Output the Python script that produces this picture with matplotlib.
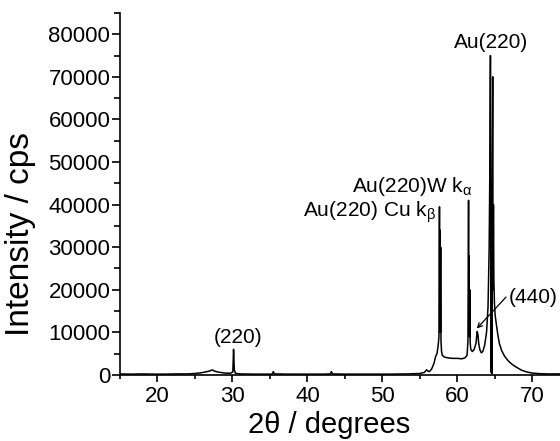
import numpy as np
import matplotlib
matplotlib.use("Agg")
import matplotlib.pyplot as plt
from matplotlib.ticker import MultipleLocator

plt.rcParams['font.family'] = ['Liberation Sans', 'DejaVu Sans']
plt.rcParams['mathtext.fontset'] = 'custom'
plt.rcParams['mathtext.rm'] = 'Liberation Sans'
plt.rcParams['mathtext.it'] = 'Liberation Sans'

# XRD pattern (2theta in degrees, intensity in cps)
two_theta = [15.0, 16.5, 18.0, 19.5, 21.0, 22.5, 24.0, 25.0, 25.8, 26.5,
             27.0, 27.3, 27.6, 28.2, 29.0, 29.7, 30.05, 30.15, 30.25, 30.4,
             31.0, 33.0, 35.3, 35.45, 35.6, 37.5, 40.0, 42.0, 43.05, 43.2,
             43.35, 45.0, 48.0, 51.0, 53.5, 55.0, 55.6, 55.9, 56.1, 56.3,
             56.6, 56.9, 57.1, 57.3, 57.45, 57.55, 57.62, 57.66, 57.7, 57.74,
             57.78, 57.82, 57.9, 58.0, 58.3, 58.8, 59.4, 60.0, 60.6, 61.0,
             61.3, 61.42, 61.5, 61.54, 61.58, 61.62, 61.66, 61.72, 61.8, 62.0,
             62.25, 62.5, 62.65, 62.75, 62.85, 63.0, 63.2, 63.4, 63.65, 63.9,
             64.1, 64.25, 64.35, 64.42, 64.47, 64.52, 64.57, 64.62, 64.67, 64.72,
             64.77, 64.82, 64.88, 64.95, 65.05, 65.2, 65.4, 65.6, 65.9, 66.3,
             66.8, 67.3, 67.9, 68.6, 69.3, 70.0, 71.0, 72.0, 73.7]
intensity = [250, 200, 250, 200, 200, 250, 250, 350, 500, 750,
             950, 1200, 900, 650, 450, 400, 700, 6000, 1200, 400,
             250, 200, 200, 800, 250, 200, 200, 200, 250, 800,
             250, 200, 200, 200, 250, 350, 600, 1200, 900, 800,
             1500, 2800, 4300, 5100, 7000, 9000, 39500, 12000, 34000, 10000,
             30000, 8000, 5500, 4600, 4200, 4000, 3900, 3900, 3800, 4000,
             4600, 8000, 41000, 12000, 28000, 9000, 20000, 7500, 6000, 5500,
             6000, 7500, 10200, 9500, 7500, 6000, 5200, 5500, 7000, 10000,
             16000, 30000, 50000, 75000, 30000, 600, 45000, 300, 50000, 70000,
             20000, 40000, 22000, 17000, 14000, 12000, 9500, 7500, 5800, 4400,
             3300, 2500, 1800, 1100, 700, 450, 300, 250, 250]

fig = plt.figure(figsize=(5.6, 4.41), dpi=100)
ax = fig.add_axes([0.2143, 0.1497, 0.7857, 0.821])

ax.plot(two_theta, intensity, color='black', lw=1.1)

ax.set_xlim(15, 73.7)
ax.set_ylim(0, 85000)
ax.xaxis.set_major_locator(MultipleLocator(10))
ax.xaxis.set_minor_locator(MultipleLocator(5))
ax.yaxis.set_major_locator(MultipleLocator(10000))
ax.yaxis.set_minor_locator(MultipleLocator(5000))

for s in ['top', 'right']:
    ax.spines[s].set_visible(False)
ax.spines['left'].set_linewidth(1.2)
ax.spines['bottom'].set_linewidth(1.2)

ax.tick_params(axis='both', which='major', direction='out', labelsize=16, width=1.2)
ax.tick_params(axis='y', which='major', length=6, pad=1)
ax.tick_params(axis='y', which='minor', length=4, width=1.2)
ax.tick_params(axis='x', which='major', length=5, pad=3)
ax.tick_params(axis='x', which='minor', length=3, width=1.2)

ax.set_xlabel('2θ / degrees', fontsize=21, va='baseline')
ax.xaxis.set_label_coords(0.475, -0.16)
ax.set_ylabel('Intensity / cps', fontsize=24)
ax.yaxis.set_label_coords(-0.19, 0.39)

lab = dict(fontsize=15, color='black')
ax.text(64.5, 76700, 'Au(220)', ha='center', va='baseline', **lab)
ax.text(46.0, 43000, r'Au(220)W k$_\alpha$', ha='left', va='baseline', **lab)
ax.text(39.4, 37100, r'Au(220) Cu k$_\beta$', ha='left', va='baseline', **lab)
ax.text(30.7, 7400, '(220)', ha='center', va='baseline', **lab)
ax.text(66.85, 16800, '(440)', ha='left', va='baseline', **lab)
ax.annotate('', xy=(62.6, 10900), xytext=(66.5, 18300),
            arrowprops=dict(arrowstyle='->', color='black', lw=0.9,
                            shrinkA=0, shrinkB=0, mutation_scale=8))

fig.savefig('out.png', dpi=100)
